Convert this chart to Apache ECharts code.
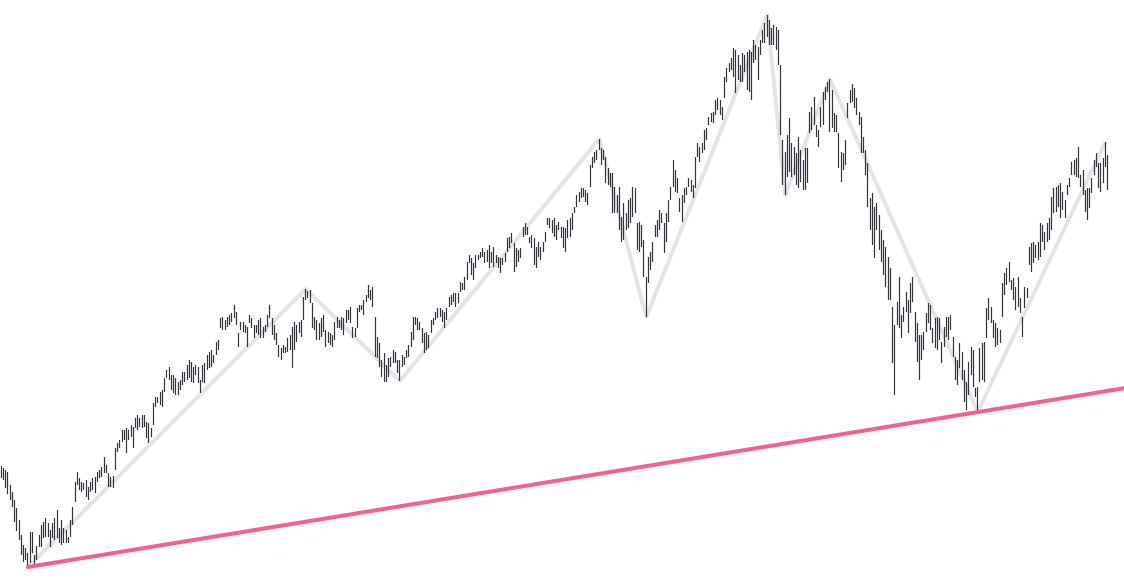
<!DOCTYPE html>
<html>
<head>
<meta charset="utf-8">
<style>html,body{margin:0;padding:0;background:#fff}#chart{width:1124px;height:586px}</style>
<script src="https://cdn.jsdelivr.net/npm/echarts@6/dist/echarts.min.js"></script>
</head>
<body>
<div id="chart"></div>
<script>
// Bar highs and lows (price units), one entry per bar
const highs = [
134,132,130,128,115,108,100,92,80,65,
55,52,47,68,68,45,54,65,75,78,
82,77,70,77,82,90,72,80,72,70,
63,80,93,118,128,122,118,117,120,113,
118,122,123,128,130,133,143,135,127,123,
124,152,157,160,170,170,172,170,175,173,
182,185,182,185,185,178,177,172,197,203,
203,208,210,222,230,233,225,225,222,218,
220,228,228,235,240,238,233,235,233,220,
235,237,245,248,250,245,258,260,282,283,
280,283,285,287,295,288,267,278,278,275,
273,285,282,275,275,280,282,273,275,285,
295,282,275,267,255,252,255,253,262,265,
273,278,275,278,280,303,311,309,310,297,
283,280,277,282,285,270,268,267,265,278,
283,280,283,282,290,290,293,273,272,292,
295,295,300,305,315,310,313,283,263,257,
240,247,235,242,243,250,248,240,240,245,
243,250,255,268,283,283,282,278,272,267,
268,265,280,282,288,292,292,290,288,292,
303,305,307,307,307,318,317,323,338,345,
342,337,345,345,348,352,348,350,355,348,
353,345,343,342,342,347,362,363,367,357,
352,350,352,373,377,373,363,365,362,353,
358,353,358,368,382,382,380,382,375,378,
373,373,372,380,382,387,393,405,408,412,
412,410,407,435,443,448,450,461,452,450,
443,432,427,427,413,405,413,383,397,387,
400,402,413,412,377,378,375,360,323,343,
348,358,375,380,390,387,377,387,400,413,
440,430,422,402,405,412,413,422,420,415,
443,457,453,457,470,472,483,487,488,500,
502,500,493,523,532,537,542,552,550,545,
535,547,545,548,550,548,560,555,553,560,
570,577,585,580,572,575,573,570,535,460,
448,465,482,457,453,447,463,450,440,452,
452,488,493,503,475,470,493,508,513,518,
521,510,487,485,467,448,447,460,497,510,
516,512,502,488,483,463,450,437,402,407,
393,397,385,370,360,353,343,332,293,275,
298,323,285,293,308,300,317,323,288,277,
265,265,268,287,297,295,272,282,283,282,
258,273,283,283,285,263,243,240,257,248,
230,218,238,253,250,212,213,252,257,258,
292,302,293,280,277,272,270,317,327,332,
338,320,322,313,323,302,283,313,312,353,
357,358,355,358,377,375,368,377,382,403,
412,413,415,417,408,400,415,422,438,440,
442,453,425,430,410,412,412,422,440,447,
437,437,442,458,445
];
const lows = [
122,120,112,106,100,93,78,69,60,45,
38,40,33,37,47,35,40,53,53,62,
63,63,53,62,60,62,57,55,57,57,
57,63,75,98,115,110,108,110,103,100,
108,110,107,118,122,123,127,127,113,113,
112,130,148,152,158,160,147,160,163,152,
172,170,173,172,173,162,157,163,175,193,
197,195,193,208,222,220,210,207,205,205,
210,215,218,220,222,218,217,225,217,207,
218,217,230,232,233,237,245,250,272,270,
270,273,275,278,282,275,253,270,268,267,
253,277,272,262,267,265,262,262,268,273,
282,265,260,255,243,240,247,247,248,250,
232,250,258,267,263,280,300,302,297,272,
270,260,260,263,268,253,257,255,253,260,
272,272,270,265,277,280,277,262,263,272,
288,290,285,298,302,300,293,243,242,233,
223,218,218,223,233,237,237,227,219,233,
235,242,243,253,260,275,270,270,257,247,
250,252,267,275,280,282,283,278,272,280,
293,295,298,293,297,308,310,310,320,337,
325,320,332,340,342,343,337,338,332,337,
333,337,332,327,335,338,348,352,357,328,
333,338,342,363,365,365,357,352,335,332,
343,340,348,358,375,372,367,363,360,370,
362,352,348,362,363,370,387,393,398,402,
403,398,395,413,432,437,440,450,435,440,
417,415,413,387,387,387,370,358,360,370,
372,377,383,387,350,348,353,323,283,317,
330,338,363,363,370,377,347,358,378,400,
413,408,407,388,378,397,405,413,408,402,
412,443,438,447,450,460,475,478,477,485,
490,485,480,502,518,528,530,523,507,520,
518,518,528,510,508,500,537,540,520,545,
557,557,563,555,555,555,550,535,465,415,
405,423,428,423,425,415,412,418,410,410,
417,467,470,475,463,453,473,475,500,508,
468,472,468,468,432,418,430,435,482,497,
498,492,485,475,447,447,425,393,370,355,
342,370,350,338,325,313,300,300,237,205,
275,272,262,278,288,267,287,298,258,238,
220,240,250,268,277,270,257,252,250,260,
237,253,263,260,270,243,220,215,232,220,
198,190,205,225,213,203,188,218,220,218,
262,280,277,262,253,255,257,283,305,315,
318,310,300,290,293,287,263,292,302,335,
328,337,342,340,343,358,350,358,360,370,
387,388,393,382,390,382,405,413,425,425,
423,422,413,405,388,380,392,407,425,433,
412,408,417,433,410
];
// Zigzag pivot bar indices (alternating low, high, low, ...)
const zigzagPivots = [12,136,178,267,288,342,350,370,436,493];
// Trend line anchored on two swing lows (bar indices)
const trendAnchors = [12,436];

const X_MIN = -0.5, X_MAX = 501.29;
const barColor = '#32333f';

const bars = highs.map((h, i) => [i, lows[i], h]);
const zigzag = zigzagPivots.map((p, k) => [p, k % 2 === 0 ? lows[p] : highs[p]]);
const [ta, tb] = trendAnchors;
const slope = (lows[tb] - lows[ta]) / (tb - ta);
const trend = [[ta, lows[ta]], [X_MAX, lows[ta] + slope * (X_MAX - ta)]];

function renderBar(params, api) {
  const i = api.value(0);
  const lo = api.coord([i, api.value(1)]);
  const hi = api.coord([i, api.value(2)]);
  const x = Math.round(lo[0] - 0.5) + 0.5;
  return {
    type: 'line',
    shape: { x1: x, y1: lo[1], x2: x, y2: hi[1] },
    style: { stroke: barColor, lineWidth: 1.2 }
  };
}

const chart = echarts.init(document.getElementById('chart'));
chart.setOption({
  animation: false,
  backgroundColor: '#ffffff',
  grid: { left: 0, right: 0, top: 0, bottom: 0 },
  xAxis: { type: 'value', min: X_MIN, max: X_MAX, show: false },
  yAxis: { type: 'value', min: 14, max: 600, show: false },
  series: [
    {
      type: 'line', data: zigzag, symbol: 'none', z: 1,
      lineStyle: { color: '#e4e4e7', width: 4, join: 'round' }
    },
    {
      type: 'custom', data: bars, renderItem: renderBar, z: 2,
      encode: { x: 0, y: [1, 2] }
    },
    {
      type: 'line', data: trend, symbol: 'none', z: 3,
      lineStyle: { color: '#f06292', width: 4, cap: 'round' }
    }
  ]
});
</script>
</body>
</html>
